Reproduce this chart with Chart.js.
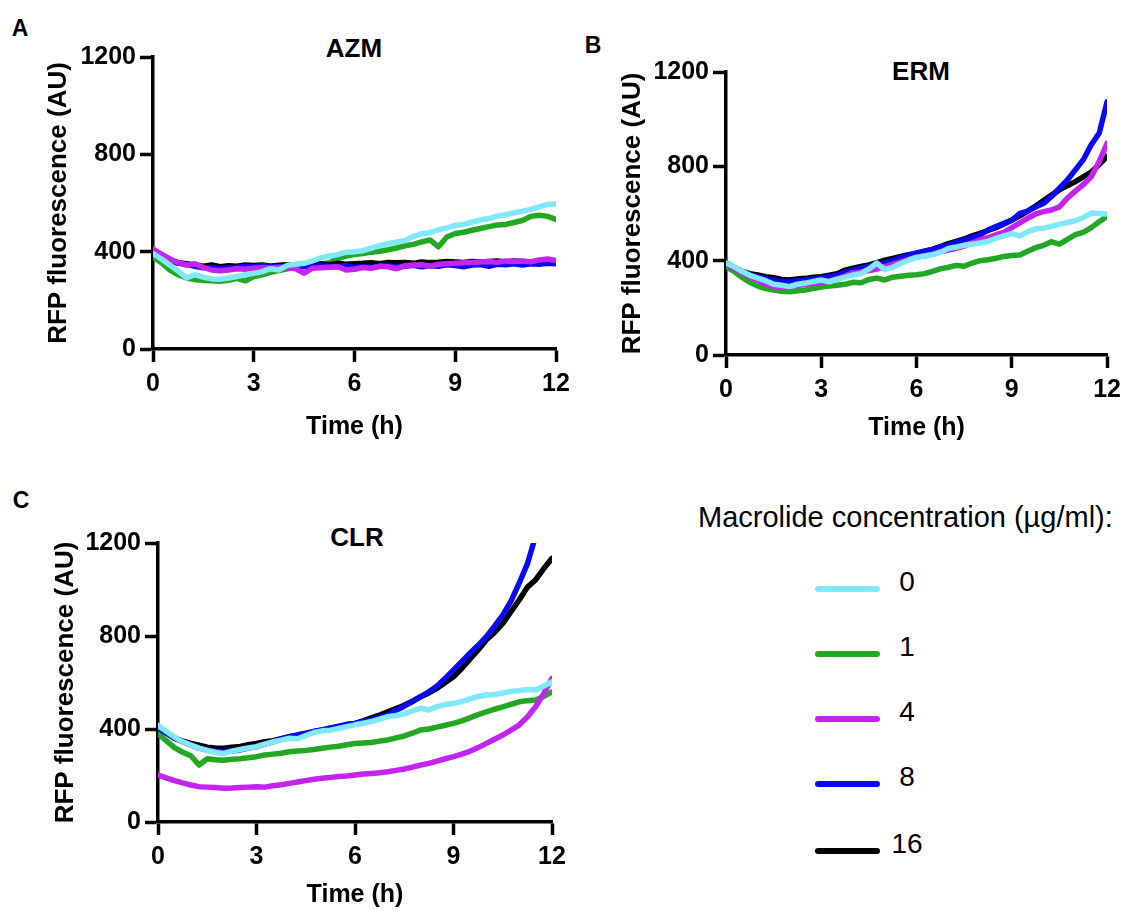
<!DOCTYPE html>
<html>
<head>
<meta charset="utf-8">
<script src="https://cdn.jsdelivr.net/npm/chart.js@4.4.0/dist/chart.umd.min.js"></script>
<style>
  body { margin: 0; background: #fff; }
  #fig { position: relative; width: 1128px; height: 911px; overflow: hidden;
         font-family: "Liberation Sans", Arial, sans-serif; color: #000; }
  canvas { position: absolute; }
  .txt { position: absolute; transform: translate(-50%, -50%); line-height: 1; white-space: nowrap; }
  .letter { font-weight: bold; font-size: 23px; }
  .ttl { font-weight: bold; font-size: 26px; }
  .swatch { position: absolute; width: 65px; height: 6px; border-radius: 3px; }
</style>
</head>
<body>
<div id="fig">
  <div class="txt letter" style="left:20px; top:28px">A</div>
  <div class="txt letter" style="left:593px; top:45px">B</div>
  <div class="txt letter" style="left:21px; top:500px">C</div>

  <div class="txt ttl" style="left:354px; top:48px">AZM</div>
  <div class="txt ttl" style="left:921px; top:71px">ERM</div>
  <div class="txt ttl" style="left:357px; top:537px">CLR</div>

  <canvas id="chartA" width="600" height="460" style="left:0; top:0"></canvas>
  <canvas id="chartB" width="548" height="420" style="left:580px; top:40px"></canvas>
  <canvas id="chartC" width="600" height="441" style="left:0; top:470px"></canvas>

  <div id="legend"></div>
</div>

<script>
// time points (h)
const hours = [0, 0.25, 0.5, 0.75, 1, 1.25, 1.5, 1.75, 2, 2.25, 2.5, 2.75,
  3, 3.25, 3.5, 3.75, 4, 4.25, 4.5, 4.75, 5, 5.25, 5.5, 5.75,
  6, 6.25, 6.5, 6.75, 7, 7.25, 7.5, 7.75, 8, 8.25, 8.5, 8.75,
  9, 9.25, 9.5, 9.75, 10, 10.25, 10.5, 10.75, 11, 11.25, 11.5, 11.75, 12]

const concLabels = ['0', '1', '4', '8', '16']
const concColors = ['#7FE9F9', '#22A822', '#C424F2', '#0A0AF2', '#000000']
const drawOrder = [0, 4, 1, 2, 3]  // lower = drawn on top

// AZM
const azm0 = [392, 370, 345, 320, 292, 305, 295, 288, 287, 292, 298, 305,
  311, 318, 330, 325, 344, 348, 352, 362, 375, 382, 388, 398,
  400, 404, 415, 425, 433, 440, 446, 462, 474, 478, 490, 498,
  508, 512, 522, 530, 536, 546, 552, 560, 566, 574, 584, 594, 596]
const azm1 = [378, 355, 325, 305, 292, 285, 282, 280, 278, 282, 290, 280,
  298, 305, 315, 322, 330, 335, 340, 342, 348, 355, 372, 382,
  388, 392, 398, 402, 408, 415, 424, 430, 440, 448, 420, 460,
  475, 480, 488, 495, 503, 510, 512, 520, 528, 545, 550, 545, 533]
const azm4 = [410, 390, 370, 355, 345, 350, 335, 325, 322, 325, 330, 328,
  332, 335, 333, 336, 334, 330, 312, 332, 334, 336, 338, 325,
  328, 335, 332, 340, 338, 330, 342, 345, 346, 340, 348, 350,
  352, 354, 356, 358, 360, 356, 362, 360, 362, 358, 366, 370, 364]
const azm8 = [398, 380, 362, 352, 348, 340, 334, 336, 330, 334, 336, 340,
  338, 342, 340, 338, 342, 336, 340, 338, 342, 340, 338, 342,
  335, 338, 336, 340, 342, 336, 340, 344, 338, 342, 340, 346,
  343, 338, 345, 347, 340, 348, 346, 350, 345, 350, 348, 352, 350]
const azm16 = [402, 385, 365, 355, 350, 345, 340, 345, 338, 342, 340, 345,
  343, 345, 340, 344, 346, 342, 345, 348, 350, 346, 352, 348,
  350, 352, 355, 350, 356, 354, 356, 352, 358, 355, 357, 360,
  358, 356, 360, 358, 360, 362, 358, 362, 360, 358, 362, 360, 356]

// ERM
const erm0 = [390, 375, 355, 338, 326, 315, 300, 296, 290, 300, 305, 312,
  318, 310, 322, 330, 339, 345, 365, 390, 362, 372, 388, 402,
  414, 420, 425, 435, 452, 458, 465, 470, 475, 482, 495, 505,
  515, 505, 522, 535, 538, 545, 555, 562, 570, 582, 602, 600, 598]
const erm1 = [375, 355, 330, 308, 292, 282, 275, 270, 268, 272, 276, 282,
  288, 292, 296, 300, 308, 306, 320, 326, 318, 330, 334, 338,
  340, 345, 355, 365, 372, 380, 376, 390, 400, 404, 410, 418,
  422, 424, 440, 455, 465, 480, 470, 490, 510, 520, 540, 565, 588]
const erm4 = [385, 368, 350, 330, 318, 300, 290, 286, 290, 295, 300, 304,
  307, 315, 322, 335, 348, 352, 358, 364, 375, 385, 395, 405,
  415, 420, 428, 438, 445, 452, 462, 475, 488, 498, 510, 520,
  540, 560, 580, 598, 608, 615, 628, 665, 695, 722, 756, 820, 898]
const erm8 = [390, 372, 352, 340, 332, 322, 318, 312, 311, 315, 318, 322,
  326, 332, 338, 350, 360, 368, 375, 382, 389, 400, 412, 422,
  432, 440, 448, 458, 466, 478, 488, 498, 509, 530, 545, 558,
  572, 600, 610, 628, 643, 672, 707, 742, 785, 828, 891, 940, 1074]
const erm16 = [390, 372, 355, 345, 339, 332, 328, 320, 318, 322, 325, 330,
  332, 338, 345, 360, 368, 375, 382, 392, 402, 410, 418, 425,
  432, 440, 448, 460, 472, 482, 492, 505, 516, 528, 540, 555,
  572, 590, 610, 632, 655, 678, 700, 718, 735, 755, 775, 808, 842]

// CLR
const clr0 = [415, 390, 365, 345, 331, 318, 308, 300, 295, 305, 312, 318,
  324, 335, 345, 352, 360, 358, 372, 385, 392, 395, 402, 410,
  418, 425, 432, 442, 453, 458, 465, 478, 489, 482, 496, 505,
  510, 518, 530, 540, 546, 548, 555, 562, 565, 570, 568, 585, 603]
const clr1 = [380, 350, 320, 300, 285, 245, 272, 268, 266, 270, 272, 276,
  281, 288, 292, 296, 302, 305, 308, 312, 317, 322, 326, 332,
  338, 340, 342, 348, 353, 362, 370, 382, 396, 400, 408, 416,
  424, 435, 448, 462, 474, 485, 495, 506, 517, 522, 525, 540, 560]
const clr4 = [202, 190, 178, 168, 159, 152, 150, 148, 145, 146, 148, 150,
  152, 150, 156, 160, 166, 172, 178, 184, 188, 192, 196, 198,
  202, 206, 209, 212, 216, 222, 228, 236, 245, 252, 262, 272,
  281, 292, 304, 320, 338, 356, 374, 395, 417, 452, 496, 553, 618]
const clr8 = [405, 382, 360, 345, 331, 318, 310, 305, 302, 305, 310, 318,
  324, 335, 345, 356, 367, 375, 382, 390, 396, 405, 412, 420,
  424, 432, 440, 450, 460, 480, 498, 518, 539, 560, 585, 618,
  654, 690, 726, 760, 797, 842, 890, 950, 1027, 1110, 1230, null, null]
const clr16 = [405, 385, 362, 348, 338, 330, 322, 318, 317, 322, 325, 332,
  338, 345, 350, 358, 367, 372, 380, 388, 396, 402, 410, 418,
  424, 435, 448, 460, 474, 488, 502, 520, 539, 555, 575, 600,
  625, 660, 700, 740, 783, 815, 854, 905, 955, 1010, 1041, 1090, 1134]

Chart.defaults.font.family = '"Liberation Sans", Arial, sans-serif'
Chart.defaults.color = '#000'

const tickFont = { size: 25, weight: 'bold' }

function makePanel(id, series, pad, yWidth, xHeight) {
  const el = document.getElementById(id)
  const axisBits = {
    grid: { drawOnChartArea: false, drawTicks: true, tickLength: 13, tickWidth: 3.5, tickColor: '#000', color: '#000' },
    border: { display: true, color: '#000', width: 3.5 }
  }
  return new Chart(el, {
    type: 'line',
    data: {
      datasets: series.map((vals, i) => ({
        label: concLabels[i],
        data: vals.map((v, j) => ({ x: hours[j], y: v })),
        borderColor: concColors[i],
        borderWidth: 5.5,
        borderCapStyle: 'round',
        borderJoinStyle: 'round',
        pointRadius: 0,
        tension: 0,
        order: drawOrder[i]
      }))
    },
    options: {
      responsive: false,
      animation: false,
      events: [],
      layout: { padding: pad },
      plugins: { legend: { display: false }, tooltip: { enabled: false } },
      scales: {
        x: {
          type: 'linear', min: 0, max: 12,
          ticks: { stepSize: 3, font: tickFont, color: '#000', padding: 7, maxRotation: 0, callback: v => String(v) },
          ...axisBits,
          title: { display: true, text: 'Time (h)', font: { size: 25, weight: 'bold' }, color: '#000', padding: 0 },
          afterFit: s => { s.height = xHeight }
        },
        y: {
          min: 0, max: 1200,
          ticks: { stepSize: 400, font: tickFont, color: '#000', padding: 4, callback: v => String(v) },
          ...axisBits,
          title: { display: true, text: 'RFP fluorescence (AU)', font: { size: 26, weight: 'bold' }, color: '#000', padding: 0 },
          afterFit: s => { s.width = yWidth }
        }
      }
    }
  })
}

makePanel('chartA', [azm0, azm1, azm4, azm8, azm16],
  { left: 43.4, right: 44, top: 57, bottom: 18 }, 109.6, 93)
makePanel('chartB', [erm0, erm1, erm4, erm8, erm16],
  { left: 37.4, right: 16, top: 32, bottom: 17 }, 108.6, 88)
makePanel('chartC', [clr0, clr1, clr4, clr8, clr16],
  { left: 50.4, right: 48, top: 73, bottom: 1 }, 107.6, 88)

// legend
const legend = document.getElementById('legend')
const head = document.createElement('div')
head.className = 'txt'
head.style.cssText = 'left:698px; top:517px; font-size:29px; transform:translate(0,-50%)'
head.textContent = 'Macrolide concentration (µg/ml):'
legend.appendChild(head)

const legendRowY = [585, 650, 715, 780, 847]
concLabels.forEach((lab, i) => {
  const sw = document.createElement('div')
  sw.className = 'swatch'
  sw.style.left = '815px'
  sw.style.top = (legendRowY[i] + 4 - 3) + 'px'
  sw.style.background = concColors[i]
  legend.appendChild(sw)

  const t = document.createElement('div')
  t.className = 'txt'
  t.style.cssText = 'left:907px; font-size:28px'
  t.style.top = (legendRowY[i] - 3) + 'px'
  t.textContent = lab
  legend.appendChild(t)
})
</script>
</body>
</html>
